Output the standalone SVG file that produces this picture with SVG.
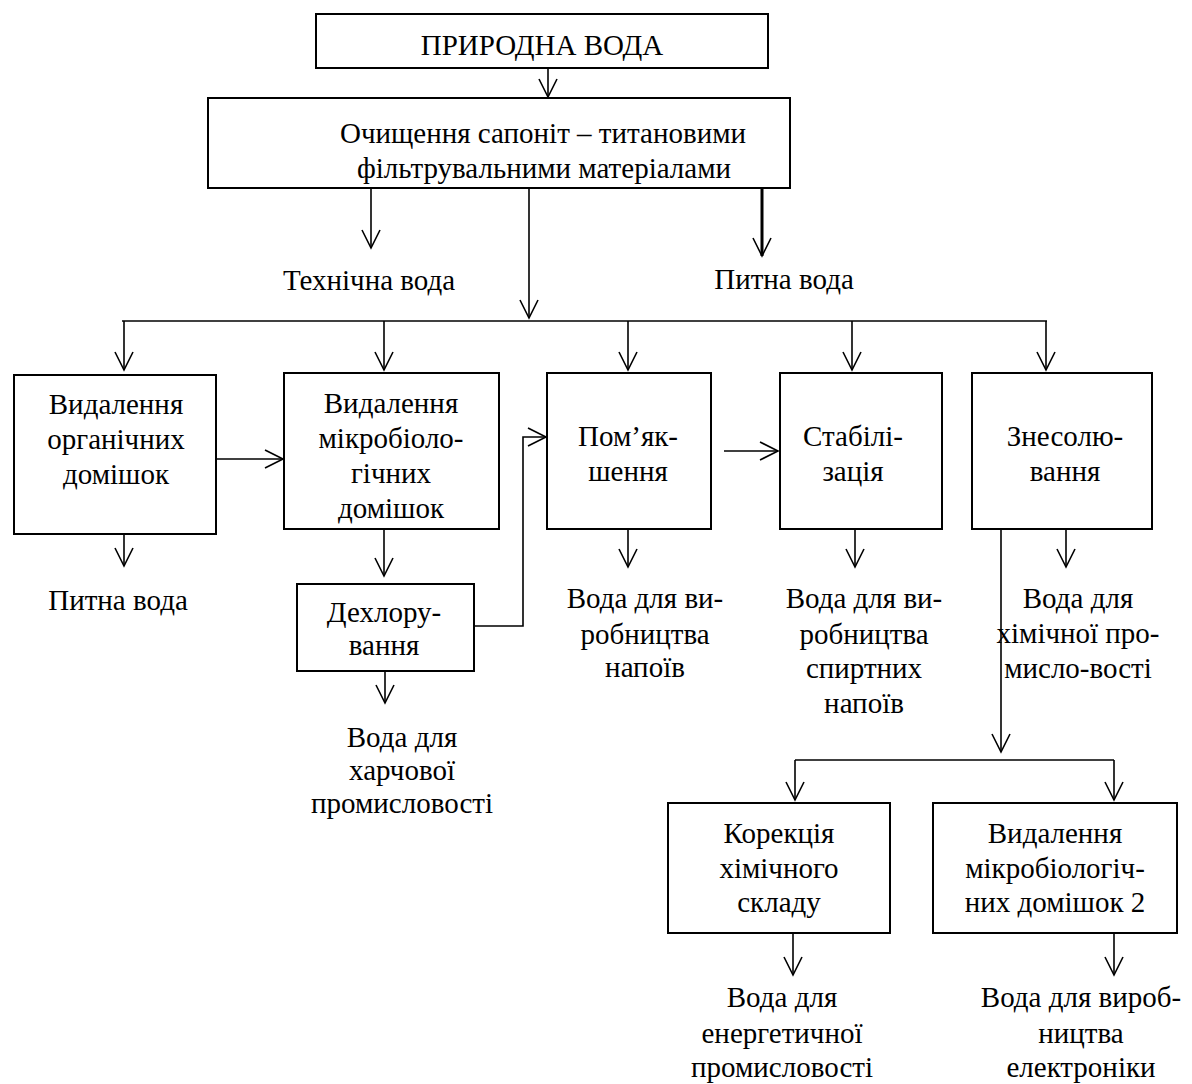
<svg xmlns="http://www.w3.org/2000/svg" width="1192" height="1084" viewBox="0 0 1192 1084">
<style>
rect{fill:#fff;stroke:#000;stroke-width:2}
text{font-family:"Liberation Serif","Times New Roman",serif;font-size:29px;fill:#000;text-anchor:middle}
.c line,.c polyline{stroke:#000;stroke-width:1.6;fill:none}
.c .a{marker-end:url(#ah)}
</style>
<defs>
<marker id="ah" markerUnits="userSpaceOnUse" markerWidth="24" markerHeight="22" viewBox="0 0 24 22" refX="21" refY="11" orient="auto">
<path d="M3 2 L21 11 L3 20" fill="none" stroke="#000" stroke-width="1.6"/>
</marker>
</defs>
<rect width="1192" height="1084" style="fill:#fff;stroke:none"/>
<g class="c" id="connectors">
<line class="a" x1="548" y1="68" x2="548" y2="97"/>
<line class="a" x1="371" y1="188" x2="371" y2="248"/>
<line class="a" x1="529" y1="188" x2="529" y2="318"/>
<line class="a" x1="762" y1="188" x2="762" y2="256" style="stroke-width:3"/>
<line x1="122" y1="321" x2="1047" y2="321"/>
<line class="a" x1="124" y1="321" x2="124" y2="370"/>
<line class="a" x1="384" y1="321" x2="384" y2="370"/>
<line class="a" x1="628" y1="321" x2="628" y2="370"/>
<line class="a" x1="852" y1="321" x2="852" y2="370"/>
<line class="a" x1="1046" y1="321" x2="1046" y2="370"/>
<line class="a" x1="216" y1="459" x2="283" y2="459"/>
<line class="a" x1="724" y1="451" x2="778" y2="451"/>
<polyline class="a" points="474,626 523,626 523,437 546,437"/>
<line class="a" x1="124" y1="534" x2="124" y2="566"/>
<line class="a" x1="384" y1="529" x2="384" y2="576"/>
<line class="a" x1="385" y1="671" x2="385" y2="703"/>
<line class="a" x1="628" y1="530" x2="628" y2="567"/>
<line class="a" x1="855" y1="530" x2="855" y2="567"/>
<line class="a" x1="1066" y1="530" x2="1066" y2="567"/>
<line class="a" x1="1001" y1="530" x2="1001" y2="752"/>
<line x1="795" y1="760" x2="1114" y2="760"/>
<line class="a" x1="795" y1="760" x2="795" y2="800"/>
<line class="a" x1="1114" y1="760" x2="1114" y2="800"/>
<line class="a" x1="793" y1="933" x2="793" y2="975"/>
<line class="a" x1="1114" y1="933" x2="1114" y2="975"/>
</g>
<g id="n-pryrodna"><rect x="316" y="14" width="452" height="54"/><text x="542" y="55">ПРИРОДНА ВОДА</text></g>
<g id="n-ochyshchennia"><rect x="208" y="98" width="582" height="90"/><text x="543" y="143">Очищення сапоніт – титановими</text><text x="544" y="178">фільтрувальними матеріалами</text></g>
<g id="t-tekhnichna"><text x="369" y="290">Технічна вода</text></g>
<g id="t-pytna1"><text x="784" y="289">Питна вода</text></g>
<g id="n-org"><rect x="14" y="375" width="202" height="159"/><text x="116" y="414">Видалення</text><text x="116" y="449">органічних</text><text x="116" y="484">домішок</text></g>
<g id="n-mikro"><rect x="284" y="373" width="215" height="156"/><text x="391" y="413">Видалення</text><text x="391" y="448">мікробіоло-</text><text x="391" y="483">гічних</text><text x="391" y="518">домішок</text></g>
<g id="n-pom"><rect x="547" y="373" width="164" height="156"/><text x="628" y="446">Пом’як-</text><text x="628" y="481">шення</text></g>
<g id="n-stab"><rect x="780" y="373" width="162" height="156"/><text x="853" y="446">Стабілі-</text><text x="853" y="481">зація</text></g>
<g id="n-znes"><rect x="972" y="373" width="180" height="156"/><text x="1065" y="446">Знесолю-</text><text x="1065" y="481">вання</text></g>
<g id="t-pytna2"><text x="118" y="610">Питна вода</text></g>
<g id="n-dekhl"><rect x="297" y="584" width="177" height="87"/><text x="384" y="622">Дехлору-</text><text x="384" y="655">вання</text></g>
<g id="t-kharch"><text x="402" y="747">Вода для</text><text x="402" y="780">харчової</text><text x="402" y="813">промисловості</text></g>
<g id="t-napoi"><text x="645" y="608">Вода для ви-</text><text x="645" y="644">робництва</text><text x="645" y="677">напоїв</text></g>
<g id="t-spyrt"><text x="864" y="608">Вода для ви-</text><text x="864" y="644">робництва</text><text x="864" y="678">спиртних</text><text x="864" y="713">напоїв</text></g>
<g id="t-khim"><text x="1078" y="608">Вода для</text><text x="1078" y="643">хімічної про-</text><text x="1078" y="678">мисло-вості</text></g>
<g id="n-korek"><rect x="668" y="803" width="222" height="130"/><text x="779" y="843">Корекція</text><text x="779" y="878">хімічного</text><text x="779" y="912">складу</text></g>
<g id="n-mikro2"><rect x="933" y="803" width="244" height="130"/><text x="1055" y="843">Видалення</text><text x="1055" y="878">мікробіологіч-</text><text x="1055" y="912">них домішок 2</text></g>
<g id="t-energ"><text x="782" y="1007">Вода для</text><text x="782" y="1043">енергетичної</text><text x="782" y="1077">промисловості</text></g>
<g id="t-elektr"><text x="1081" y="1007">Вода для вироб-</text><text x="1081" y="1043">ництва</text><text x="1081" y="1077">електроніки</text></g>
</svg>
